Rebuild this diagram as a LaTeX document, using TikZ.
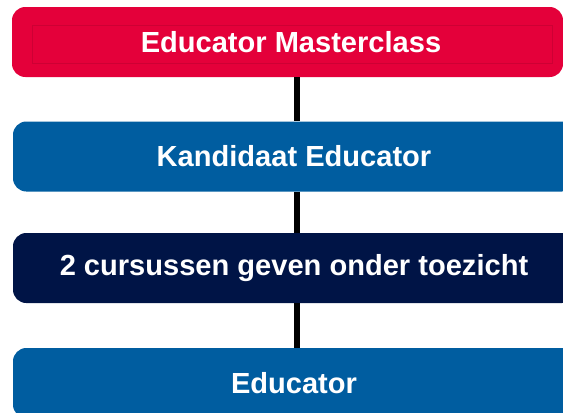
\documentclass[tikz,border=0pt]{standalone}
\usepackage{fontspec}
\setmainfont{Liberation Sans}
\definecolor{mcred}{HTML}{E4003A}
\definecolor{mcblue}{HTML}{005DA0}
\definecolor{mcnavy}{HTML}{001446}
\tikzset{
    stage/.style={rounded corners=10pt, inner sep=0pt, text=white,
        font=\bfseries\fontsize{21.8}{26}\selectfont, minimum height=52.5pt},
    spineline/.style={line width=4.6pt, black}
}
\begin{document}
\begin{tikzpicture}[x=0.75pt, y=-0.75pt]
    \useasboundingbox (0,0) rectangle (563,412);
    \clip (0,0) rectangle (563,412);
    % Steps
    \node[stage, fill=mcred, minimum width=413.25pt] (master) at (287.5, 42) {\hspace*{5.25pt}Educator Masterclass};
    \draw[mcred!90!black, line width=0.25pt] (32,25) rectangle (552,63);
    \node[stage, fill=mcblue, minimum width=421.5pt] (kandidaat) at (294, 156.5) {Kandidaat Educator};
    \node[stage, fill=mcnavy, minimum width=421.5pt] (toezicht) at (294, 268) {2 cursussen geven onder toezicht};
    \node[stage, fill=mcblue, minimum width=421.5pt] (educator) at (294, 383) {Educator};
    % Connectors
    \coordinate (spine) at (297, 0);
    \draw[spineline] (master.south -| spine) -- (kandidaat.north -| spine);
    \draw[spineline] (kandidaat.south -| spine) -- (toezicht.north -| spine);
    \draw[spineline] (toezicht.south -| spine) -- (educator.north -| spine);
\end{tikzpicture}
\end{document}
